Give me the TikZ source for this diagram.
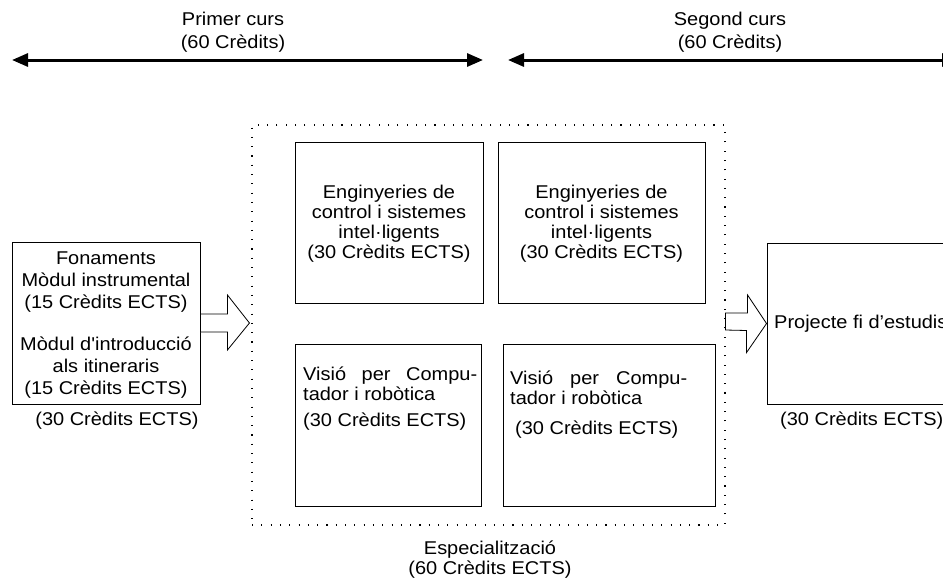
\documentclass[tikz,border=0pt]{standalone}
\usepackage{fontspec}
\setmainfont[FakeStretch=1.08,Ligatures=TeXOff]{Liberation Sans}
\usetikzlibrary{arrows.meta,calc}
\begin{document}
\begin{tikzpicture}[x=1pt,y=-1pt,
  every node/.style={font=\fontsize{18.5}{22}\selectfont, inner sep=0pt},
  box/.style={draw, line width=0.9pt},
  span/.style={line width=3pt, {Triangle[length=16pt,width=13pt]}-{Triangle[length=16pt,width=13pt]}},
  blockarrow/.style={draw, line width=0.8pt, fill=white, line join=miter},
  dotbox/.style={draw, line width=1.1pt, dash pattern=on 1.1pt off 8.2pt},
  lbl/.style={align=center},
  tight/.style={font=\fontsize{18.5}{20}\selectfont},
  wide/.style={font=\fontsize{18.5}{23}\selectfont},
]
\useasboundingbox (0,0) rectangle (943,579);
\clip (0,0) rectangle (943,579);

% year spans
\coordinate (p1l) at (12,60);
\coordinate (p1r) at (483,60);
\coordinate (p2l) at (508,60);
\coordinate (p2r) at (958,60);
\draw[span] (p1l) -- (p1r);
\draw[span] (p2l) -- (p2r);
\node[lbl,wide] (y1) at (233,32.5) {Primer curs\\(60 Crèdits)};
\node[lbl,wide] (y2) at (730,32.5) {Segond curs\\(60 Crèdits)};

% foundations block
\node[box, minimum width=188pt, minimum height=162pt] (fon) at (106,323) {};
\node[lbl] (fon1) at (106,282.5) {Fonaments\\Mòdul instrumental\\(15 Crèdits ECTS)};
\node[lbl] (fon2) at (106,367.5) {Mòdul d'introducció\\als itineraris\\(15 Crèdits ECTS)};
\node (fonc) at (117,421) {(30 Crèdits ECTS)};

% specialisation area
\node[dotbox, minimum width=473pt, minimum height=400pt] (spec) at (488.5,325) {};
\node[lbl,tight] (specl) at (490,560) {Especialització\\(60 Crèdits ECTS)};

\node[box, minimum width=188pt, minimum height=161pt] (c1) at (389,222.5) {};
\node[box, minimum width=207pt, minimum height=161pt] (c2) at (601.5,222.5) {};
\node[lbl,tight] (c1t) at (389,224) {Enginyeries de\\control i sistemes\\intel·ligents\\(30 Crèdits ECTS)};
\node[lbl,tight] (c2t) at (601.5,224) {Enginyeries de\\control i sistemes\\intel·ligents\\(30 Crèdits ECTS)};

\node[box, minimum width=186pt, minimum height=162pt] (v1) at (388,425) {};
\node[box, minimum width=212pt, minimum height=162pt] (v2) at (609,425) {};
\node[anchor=base west] (v1a) at (303,380) {\makebox[174pt][s]{Visió\hfill per\hfill Compu-}};
\node[anchor=base west] (v1b) at (303,400) {tador i robòtica};
\node[anchor=base west] (v1c) at (303,426) {(30 Crèdits ECTS)};
\node[anchor=base west] (v2a) at (510,384) {\makebox[177pt][s]{Visió\hfill per\hfill Compu-}};
\node[anchor=base west] (v2b) at (510,404) {tador i robòtica};
\node[anchor=base west] (v2c) at (515,434) {(30 Crèdits ECTS)};

% final project
\node[box, minimum width=198pt, minimum height=161pt] (proj) at (866,323.5) {};
\node[anchor=base west] (projt) at (774,328) {Projecte fi d’estudis};
\node[anchor=west] (projc) at (780,421) {(30 Crèdits ECTS)};

% block arrows
\draw[blockarrow] ($(fon.east)+(0,-9)$) -- ++(27,0) -- ++(0,-19) -- ++(22,28)
  -- ++(-22,27) -- ++(0,-18) -- ($(fon.east)+(0,9)$) -- cycle;
\draw[blockarrow] ($(spec.east)+(0,-12)$) -- ++(22,0) -- ++(0,-18) -- (proj.west)
  -- ++(-20,29) -- ++(0,-22) -- ($(spec.east)+(0,5)$) -- cycle;
\end{tikzpicture}
\end{document}
